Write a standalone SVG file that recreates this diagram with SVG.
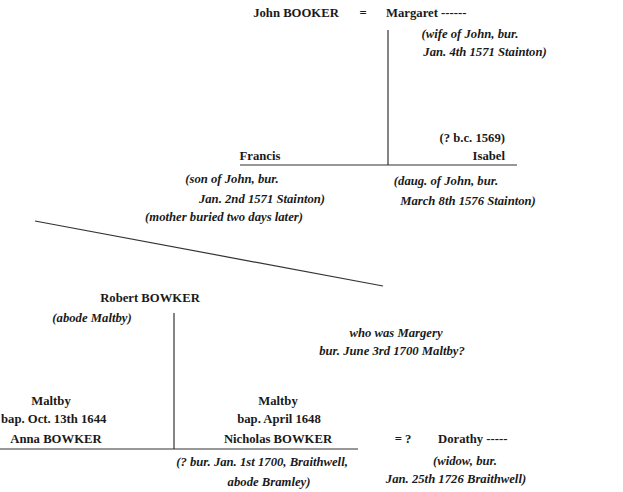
<svg xmlns="http://www.w3.org/2000/svg" width="623" height="492" viewBox="0 0 623 492">
<style>
text{font-family:"Liberation Serif","Times New Roman",serif;font-size:12.7px;font-weight:bold;fill:#1a1a1a}
.i{font-style:italic}
.m{text-anchor:middle}
.e{text-anchor:end}
.c line{stroke:#333;stroke-width:1.2;fill:none}
</style>
<rect width="623" height="492" fill="#fff"/>
<g class="c" id="connectors">
<line x1="388" y1="30" x2="388" y2="165"/>
<line x1="240" y1="165" x2="517" y2="165"/>
<line x1="35" y1="221" x2="383" y2="286"/>
<line x1="174" y1="313" x2="174" y2="449"/>
<line x1="0" y1="449" x2="358" y2="449"/>
</g>
<g id="john">
<text x="296" y="17" class="m">John BOOKER</text>
<text x="363" y="17" class="m">=</text>
</g>
<g id="margaret">
<text x="386" y="17">Margaret   ------</text>
<text x="470" y="38" class="i m">(wife of John, bur.</text>
<text x="485" y="56" class="i m">Jan. 4th 1571 Stainton)</text>
</g>
<g id="francis">
<text x="260" y="160" class="m">Francis</text>
<text x="232" y="183" class="i m">(son of John, bur.</text>
<text x="262" y="203" class="i m">Jan. 2nd 1571 Stainton)</text>
<text x="224" y="221" class="i m">(mother buried two days later)</text>
</g>
<g id="isabel">
<text x="505" y="142" class="e">(? b.c. 1569)</text>
<text x="505" y="160" class="e">Isabel</text>
<text x="446" y="185" class="i m">(daug. of John, bur.</text>
<text x="468" y="205" class="i m">March 8th 1576 Stainton)</text>
</g>
<g id="robert">
<text x="150" y="302" class="m">Robert BOWKER</text>
<text x="92" y="322" class="i m">(abode Maltby)</text>
</g>
<g id="margery">
<text x="396" y="337" class="i m">who was Margery</text>
<text x="392" y="355" class="i m">bur. June 3rd 1700 Maltby?</text>
</g>
<g id="anna">
<text x="51" y="405" class="m">Maltby</text>
<text x="1" y="423">bap. Oct. 13th 1644</text>
<text x="56" y="443" class="m">Anna BOWKER</text>
</g>
<g id="nicholas">
<text x="278" y="405" class="m">Maltby</text>
<text x="279" y="423" class="m">bap. April 1648</text>
<text x="278" y="443" class="m">Nicholas BOWKER</text>
<text x="262" y="466" class="i m">(? bur. Jan. 1st 1700, Braithwell,</text>
<text x="269" y="486" class="i m">abode Bramley)</text>
</g>
<g id="dorathy">
<text x="403" y="443" class="m">= ?</text>
<text x="438" y="443">Dorathy  -----</text>
<text x="465" y="465" class="i m">(widow, bur.</text>
<text x="456" y="483" class="i m">Jan. 25th 1726 Braithwell)</text>
</g>
</svg>
